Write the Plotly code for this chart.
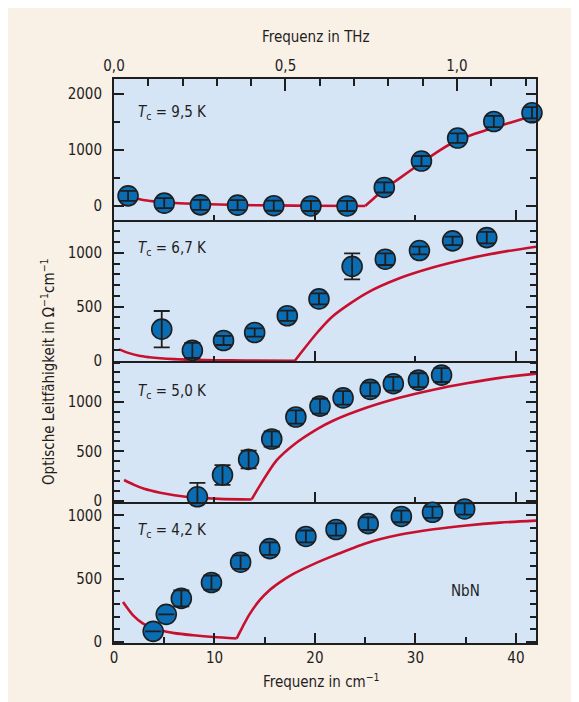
import plotly.graph_objects as go

# ---------------- data ----------------
# panel 1: Tc = 9.5 K  (measured points, error bars, model curve below/above the gap)
x_95 = [1.4, 5.0, 8.6, 12.3, 15.9, 19.6, 23.2, 26.9, 30.6, 34.2, 37.8, 41.6]
y_95 = [180, 50, 20, 15, 5, 0, 0, 330, 800, 1210, 1505, 1660]
e_95 = [90, 90, 90, 90, 90, 90, 90, 90, 90, 85, 100, 100]
lx_95 = [0.9, 2.0, 2.9, 4.0, 4.9, 6.5, 8.6, 10.5, 12.3, 15.9, 19.6, 25.0]
ly_95 = [196, 140, 107, 82, 66, 48, 36, 25, 18, 10, 3, 0]
hx_95 = [25.0, 26.0, 26.9, 28.0, 30.6, 32.5, 34.2, 36.0, 37.8, 40.0, 42.0]
hy_95 = [0, 160, 300, 440, 770, 1000, 1170, 1290, 1395, 1515, 1625]

# panel 2: Tc = 6.7 K
x_67 = [4.75, 7.8, 10.9, 14.0, 17.25, 20.4, 23.7, 27.0, 30.4, 33.7, 37.1]
y_67 = [292, 95, 187, 261, 416, 572, 873, 940, 1020, 1110, 1140]
e_67 = [168, 70, 42, 39, 47, 51, 120, 54, 36, 39, 53]
lx_67 = [0.5, 1.5, 2.5, 3.5, 4.6, 6.0, 8.0, 10.0, 13.0, 18.0]
ly_67 = [105, 70, 45, 32, 22, 14, 8, 4, 2, 0]
hx_67 = [18.0, 18.5, 20.3, 21.8, 25.1, 28.4, 31.8, 35.1, 38.4, 42.0]
hy_67 = [0, 60, 268, 414, 624, 763, 865, 942, 1003, 1056]

# panel 3: Tc = 5.0 K
x_50 = [8.3, 10.8, 13.4, 15.7, 18.1, 20.5, 22.8, 25.5, 27.8, 30.3, 32.6]
y_50 = [39, 260, 418, 625, 848, 958, 1042, 1128, 1186, 1222, 1273]
e_50 = [140, 100, 90, 77, 68, 75, 68, 68, 70, 70, 70]
lx_50 = [1.0, 2.0, 3.0, 4.6, 6.0, 8.3, 10.5, 13.7]
ly_50 = [209, 160, 120, 80, 55, 29, 18, 12]
hx_50 = [13.7, 14.5, 16.2, 17.8, 20.3, 21.8, 25.1, 28.4, 31.8, 35.1, 38.4, 42.0]
hy_50 = [12, 150, 410, 560, 730, 810, 941, 1043, 1125, 1190, 1245, 1288]

# panel 4: Tc = 4.2 K
x_42 = [3.9, 5.2, 6.7, 9.7, 12.6, 15.5, 19.1, 22.1, 25.3, 28.6, 31.7, 34.9]
y_42 = [84, 218, 344, 469, 630, 737, 833, 888, 934, 991, 1024, 1050]
e_42 = [0, 0, 63, 56, 53, 50, 47, 48, 50, 46, 45, 45]
lx_42 = [0.9, 1.9, 2.9, 3.7, 4.6, 6.0, 7.9, 9.9, 12.2]
ly_42 = [315, 210, 145, 115, 92, 70, 53, 39, 27]
hx_42 = [12.2, 12.8, 13.5, 14.5, 15.5, 16.5, 17.8, 20.3, 21.8, 25.1, 28.4, 31.8,
         35.1, 38.4, 42.0]
hy_42 = [27, 120, 220, 330, 410, 470, 535, 630, 680, 780, 846, 890,
         920, 942, 958]

panel_labels = ["<i>T</i><sub>c</sub> = 9,5 K", "<i>T</i><sub>c</sub> = 6,7 K",
                "<i>T</i><sub>c</sub> = 5,0 K", "<i>T</i><sub>c</sub> = 4,2 K"]
thz_tickvals = [0.0, 0.5, 1.0]
thz_ticktext = ["0,0", "0,5", "1,0"]

# ---------------- styling ----------------
FONT = "DejaVu Sans Condensed, Liberation Sans Narrow, Arial Narrow, sans-serif"
FS = 15
INK = "#1e1e1e"
PLOT_BG = "#d5e5f5"
PAPER = "#f9f0e6"
DOT = "#0a6cb3"
RED = "#c8102e"

W, H = 579, 702
ML, MR, MT, MB = 106, 51, 71, 67
PW, PH = W - ML - MR, H - MT - MB
OFF = 8  # page body margin in the screenshot


def px(xs):
    """screen x -> paper x"""
    return (xs - OFF - ML) / PW


def py(ys):
    """screen y -> paper y"""
    return (H - MB - (ys - OFF)) / PH


fig = go.Figure()

panels = [
    (x_95, y_95, e_95, lx_95, ly_95, hx_95, hy_95),
    (x_67, y_67, e_67, lx_67, ly_67, hx_67, hy_67),
    (x_50, y_50, e_50, lx_50, ly_50, hx_50, hy_50),
    (x_42, y_42, e_42, lx_42, ly_42, hx_42, hy_42),
]

for i, (xs, ys, es, lxs, lys, hxs, hys) in enumerate(panels, start=1):
    xa = "x" if i == 1 else f"x{i}"
    ya = "y" if i == 1 else f"y{i}"
    for cx, cy in ((lxs, lys), (hxs, hys)):
        fig.add_trace(go.Scatter(x=cx, y=cy, mode="lines", xaxis=xa, yaxis=ya,
                                 line=dict(color=RED, width=2.6, shape="spline",
                                           smoothing=0.8),
                                 hoverinfo="skip", showlegend=False))
    fig.add_trace(go.Scatter(x=xs, y=ys, mode="markers", xaxis=xa, yaxis=ya,
                             marker=dict(size=20, color=DOT,
                                         line=dict(color=INK, width=1.6)),
                             showlegend=False, cliponaxis=False))
    fig.add_trace(go.Scatter(x=xs, y=ys, mode="markers", xaxis=xa, yaxis=ya,
                             marker=dict(size=2, color="rgba(0,0,0,0)"),
                             error_y=dict(type="data", array=es, visible=True,
                                          color=INK, thickness=1.8, width=8),
                             hoverinfo="skip", showlegend=False, cliponaxis=False))

# invisible trace carrying the THz axis
fig.add_trace(go.Scatter(x=[0, 1.2305], y=[0, 0], xaxis="x5", yaxis="y",
                         mode="markers", marker=dict(opacity=0),
                         hoverinfo="skip", showlegend=False))

tickfont = dict(family=FONT, size=FS, color=INK)

domains = [[0.75, 1.0], [0.5, 0.75], [0.25, 0.5], [0.0, 0.25]]
yranges = [[-250, 2262], [-3, 1303], [-14, 1416], [-8, 1105]]
ydticks = [1000, 500, 500, 500]
yminor = [500, 100, 100, 100]

layout = dict(
    width=W, height=H,
    margin=dict(l=ML, r=MR, t=MT, b=MB),
    paper_bgcolor=PAPER, plot_bgcolor=PLOT_BG,
    font=dict(family=FONT, size=FS, color=INK),
    showlegend=False,
)

for i in range(1, 5):
    xk = "xaxis" if i == 1 else f"xaxis{i}"
    yk = "yaxis" if i == 1 else f"yaxis{i}"
    ya = "y" if i == 1 else f"y{i}"
    last = (i == 4)
    layout[xk] = dict(
        domain=[0, 1], anchor=ya, range=[0, 42], showgrid=False, zeroline=False,
        showline=True, linecolor=INK, linewidth=2, mirror=False,
        ticks="inside", tickcolor=INK, tickwidth=2,
        tick0=0, dtick=10 if last else 20, ticklen=10,
        minor=dict(ticks="inside", dtick=5 if last else 10,
                   ticklen=6 if last else 5, tickcolor=INK, tickwidth=2),
        showticklabels=last, tickfont=tickfont, ticklabelstandoff=0,
    )
    if i > 1:
        layout[xk]["matches"] = "x"
    layout[yk] = dict(
        domain=domains[i - 1], anchor="x" if i == 1 else f"x{i}",
        range=yranges[i - 1], showgrid=False, zeroline=False,
        showline=True, linecolor=INK, linewidth=2, mirror="ticks",
        ticks="inside", tickcolor=INK, tickwidth=2, ticklen=10,
        tick0=0, dtick=ydticks[i - 1],
        minor=dict(ticks="inside", dtick=yminor[i - 1], ticklen=6,
                   tickcolor=INK, tickwidth=2),
        tickfont=tickfont, ticklabelstandoff=7,
    )

layout["xaxis5"] = dict(
    overlaying="x", anchor="y", side="top", range=[0, 1.2305],
    showgrid=False, zeroline=False, showline=True, linecolor=INK, linewidth=2,
    ticks="inside", tickcolor=INK, tickwidth=2, ticklen=12,
    tickvals=thz_tickvals, ticktext=thz_ticktext,
    minor=dict(ticks="inside", dtick=0.1, tick0=0, ticklen=7,
               tickcolor=INK, tickwidth=2),
    tickfont=tickfont, ticklabelstandoff=0,
)

fig.update_layout(**layout)

ann_y = [112.7, 248.3, 391.7, 530.7]
for lbl, yy in zip(panel_labels, ann_y):
    fig.add_annotation(text=lbl, xref="paper", yref="paper", x=px(136), y=py(yy),
                       xanchor="left", yanchor="middle", showarrow=False,
                       font=dict(family=FONT, size=FS, color=INK))

fig.add_annotation(text="NbN", xref="paper", yref="paper", x=px(465), y=py(591),
                   xanchor="center", yanchor="middle", showarrow=False,
                   font=dict(family=FONT, size=FS, color=INK))
fig.add_annotation(text="Frequenz in THz", xref="paper", yref="paper",
                   x=px(316), y=py(37), xanchor="center", yanchor="middle",
                   showarrow=False, font=dict(family=FONT, size=FS, color=INK))
fig.add_annotation(text="Frequenz in cm<sup>−1</sup>", xref="paper", yref="paper",
                   x=px(321), y=py(681), xanchor="center", yanchor="middle",
                   showarrow=False, font=dict(family=FONT, size=FS, color=INK))
fig.add_annotation(text="Optische Leitfähigkeit in Ω<sup>−1</sup>cm<sup>−1</sup>",
                   xref="paper", yref="paper", x=px(48), y=py(372),
                   xanchor="center", yanchor="middle", textangle=-90,
                   showarrow=False, font=dict(family=FONT, size=FS, color=INK))

fig.write_html("out.html")
